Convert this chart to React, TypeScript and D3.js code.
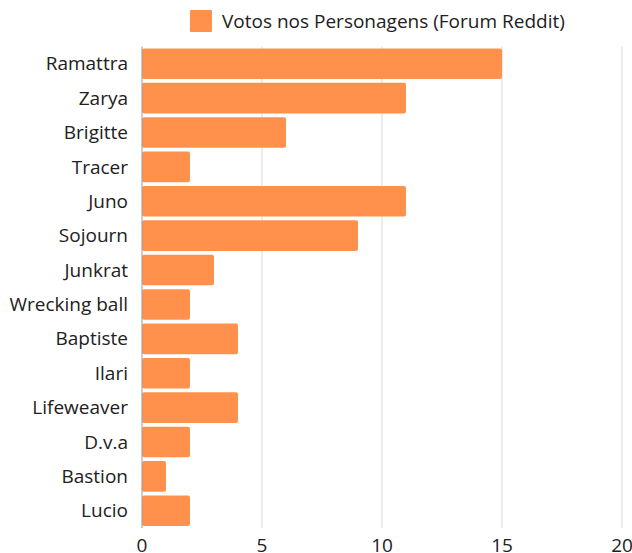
import React, { useEffect, useRef } from "react";
import * as d3 from "d3";

const heroes = [
  "Ramattra", "Zarya", "Brigitte", "Tracer", "Juno", "Sojourn", "Junkrat",
  "Wrecking ball", "Baptiste", "Ilari", "Lifeweaver", "D.v.a", "Bastion", "Lucio",
];
const votes = [15, 11, 6, 2, 11, 9, 3, 2, 4, 2, 4, 2, 1, 2];
const xTicks = [0, 5, 10, 15, 20];
const seriesName = "Votos nos Personagens (Forum Reddit)";
const barColor = "#ff914d";

const W = 632;
const H = 553;

export default function App() {
  const ref = useRef<SVGSVGElement | null>(null);

  useEffect(() => {
    if (!ref.current) return;
    const svg = d3.select(ref.current);
    svg.selectAll("*").remove();
    const font = "'Open Sans', sans-serif";
    const fs = 19;

    const top = 46.5;
    const bottom = 528;
    const x = d3.scaleLinear().domain([0, 20]).range([142, 622]);
    const y = d3.scaleBand().domain(heroes).range([top, bottom]).paddingInner(0.11).paddingOuter(0.055);

    // grid
    svg.append("g")
      .selectAll("line")
      .data(xTicks.slice(1))
      .join("line")
      .attr("x1", (d) => x(d)).attr("x2", (d) => x(d))
      .attr("y1", top).attr("y2", bottom)
      .attr("stroke", "#d9d9d9").attr("stroke-width", 1);

    // bars
    svg.append("g")
      .selectAll("rect")
      .data(heroes)
      .join("rect")
      .attr("x", x(0))
      .attr("y", (d) => y(d)!)
      .attr("width", (d, i) => x(votes[i]) - x(0))
      .attr("height", y.bandwidth())
      .attr("rx", 2)
      .attr("fill", barColor);

    // baseline
    svg.append("line")
      .attr("x1", x(0)).attr("x2", x(0))
      .attr("y1", top).attr("y2", bottom)
      .attr("stroke", "#999").attr("stroke-width", 1);

    // category labels
    svg.append("g")
      .selectAll("text")
      .data(heroes)
      .join("text")
      .attr("x", 128)
      .attr("y", (d) => y(d)! + y.bandwidth() / 2)
      .attr("dy", "0.35em")
      .attr("text-anchor", "end")
      .attr("font-family", font)
      .attr("font-size", fs)
      .attr("fill", "#212121")
      .text((d) => d);

    // x tick labels
    svg.append("g")
      .selectAll("text")
      .data(xTicks)
      .join("text")
      .attr("x", (d) => x(d))
      .attr("y", 552)
      .attr("text-anchor", "middle")
      .attr("font-family", font)
      .attr("font-size", fs)
      .attr("fill", "#212121")
      .text((d) => d);

    // legend
    svg.append("rect")
      .attr("x", 190).attr("y", 10).attr("width", 22).attr("height", 22)
      .attr("rx", 1)
      .attr("fill", barColor);
    svg.append("text")
      .attr("x", 222).attr("y", 21)
      .attr("dy", "0.35em")
      .attr("font-family", font)
      .attr("font-size", fs)
      .attr("fill", "#212121")
      .text(seriesName);
  }, []);

  return (
    <svg
      ref={ref}
      width={W}
      height={H}
      style={{ position: "absolute", left: 0, top: 0, background: "#fff" }}
    />
  );
}
